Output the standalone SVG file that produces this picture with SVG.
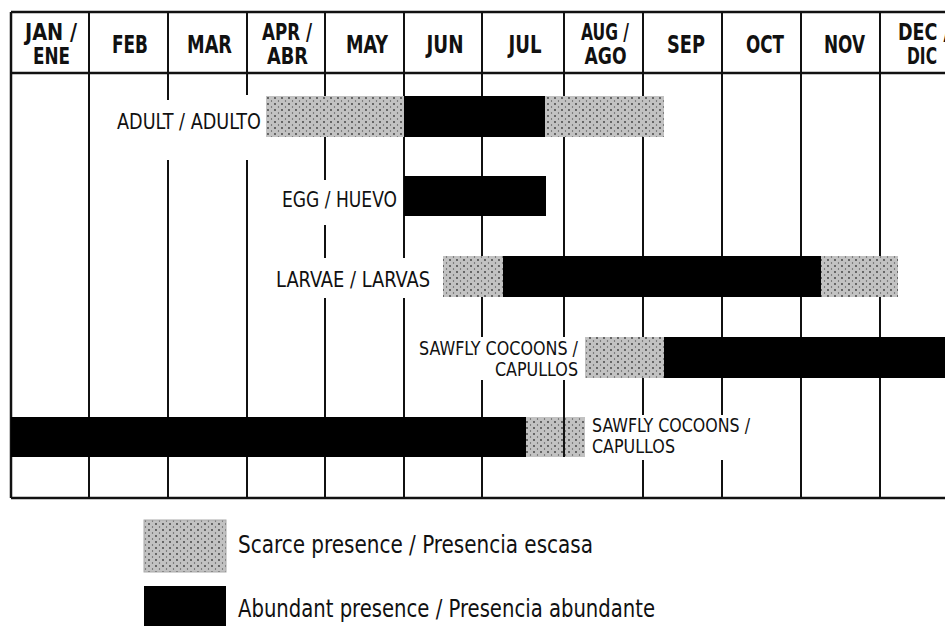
<svg xmlns="http://www.w3.org/2000/svg" width="945" height="626" viewBox="0 0 945 626">
<style>
.ln{stroke:#111;stroke-width:2;fill:none}
.frame{stroke:#111;stroke-width:2.5;fill:none}
.hd{font-family:"Liberation Sans Narrow","DejaVu Sans Condensed","Liberation Sans",sans-serif;font-weight:bold;font-size:25px;fill:#111;text-anchor:middle}
.hd2{font-family:"Liberation Sans Narrow","DejaVu Sans Condensed","Liberation Sans",sans-serif;font-weight:bold;font-size:23px;fill:#111;text-anchor:middle}
.lb{font-family:"Liberation Sans Narrow","DejaVu Sans Condensed","Liberation Sans",sans-serif;font-size:22px;fill:#111}
.lb2{font-family:"Liberation Sans Narrow","DejaVu Sans Condensed","Liberation Sans",sans-serif;font-size:19px;fill:#111}
.lg{font-family:"Liberation Sans Narrow","DejaVu Sans Condensed","Liberation Sans",sans-serif;font-size:25px;fill:#111}
.sc{fill:url(#dots)}
.ab{fill:#000}
</style>
<defs>
<pattern id="dots" width="7" height="6" patternUnits="userSpaceOnUse">
<rect width="7" height="6" fill="#c2c2c2"/>
<circle cx="2" cy="2" r="0.9" fill="#3a3a3a"/>
<circle cx="5.5" cy="5" r="0.7" fill="#555"/>
</pattern>
</defs>
<rect width="945" height="626" fill="#fff"/>

<g id="grid">
<path class="frame" d="M11,12 H945 M11,73 H945 M11,498 H945 M11,12 V498"/>
<path class="ln" d="M89,12 V498 M168,12 V100 M168,160 V498 M247,12 V95 M247,160 V498 M325,12 V180 M325,225 V258 M325,298 V498 M404,12 V258 M404,298 V498 M482,12 V337 M482,380 V498 M643,12 V415 M643,460 V498 M722,12 V415 M722,460 V498 M801,12 V498 M880,12 V498"/>
<path class="ln" d="M564,12 V337 M564,380 V417"/>
</g>

<g id="header">
<text class="hd2"><tspan x="51" y="40" textLength="52" lengthAdjust="spacingAndGlyphs">JAN /</tspan><tspan x="51.5" y="64" textLength="37" lengthAdjust="spacingAndGlyphs">ENE</tspan></text>
<text class="hd" x="130" y="53" textLength="36" lengthAdjust="spacingAndGlyphs">FEB</text>
<text class="hd" x="209.5" y="53" textLength="45" lengthAdjust="spacingAndGlyphs">MAR</text>
<text class="hd2"><tspan x="287" y="40" textLength="50" lengthAdjust="spacingAndGlyphs">APR /</tspan><tspan x="287.5" y="64" textLength="41" lengthAdjust="spacingAndGlyphs">ABR</tspan></text>
<text class="hd" x="367" y="53" textLength="42" lengthAdjust="spacingAndGlyphs">MAY</text>
<text class="hd" x="445" y="53" textLength="37" lengthAdjust="spacingAndGlyphs">JUN</text>
<text class="hd" x="525" y="53" textLength="33" lengthAdjust="spacingAndGlyphs">JUL</text>
<text class="hd2"><tspan x="605" y="40" textLength="48" lengthAdjust="spacingAndGlyphs">AUG /</tspan><tspan x="605.5" y="64" textLength="42" lengthAdjust="spacingAndGlyphs">AGO</tspan></text>
<text class="hd" x="686" y="53" textLength="38" lengthAdjust="spacingAndGlyphs">SEP</text>
<text class="hd" x="765" y="53" textLength="38" lengthAdjust="spacingAndGlyphs">OCT</text>
<text class="hd" x="844.5" y="53" textLength="41" lengthAdjust="spacingAndGlyphs">NOV</text>
<text class="hd2"><tspan x="924" y="40" textLength="52" lengthAdjust="spacingAndGlyphs">DEC /</tspan><tspan x="922" y="64" textLength="30" lengthAdjust="spacingAndGlyphs">DIC</tspan></text>
</g>

<g id="adult">
<rect class="sc" x="266" y="96" width="138" height="41"/>
<rect class="ab" x="404" y="96" width="141" height="41"/>
<rect class="sc" x="545" y="96" width="119" height="41"/>
<text class="lb" x="261" y="129" text-anchor="end" textLength="144" lengthAdjust="spacingAndGlyphs">ADULT / ADULTO</text>
</g>

<g id="egg">
<rect class="ab" x="404" y="176" width="142" height="40"/>
<text class="lb" x="397" y="207" text-anchor="end" textLength="115" lengthAdjust="spacingAndGlyphs">EGG / HUEVO</text>
</g>

<g id="larvae">
<rect class="sc" x="443" y="256" width="60" height="41"/>
<rect class="ab" x="503" y="256" width="318" height="41"/>
<rect class="sc" x="821" y="256" width="77" height="41"/>
<text class="lb" x="430" y="287" text-anchor="end" textLength="154" lengthAdjust="spacingAndGlyphs">LARVAE / LARVAS</text>
</g>

<g id="cocoons-autumn">
<rect class="sc" x="585" y="337" width="79" height="41"/>
<rect class="ab" x="664" y="337" width="290" height="41"/>
<text class="lb2" x="578" y="355" text-anchor="end" textLength="159" lengthAdjust="spacingAndGlyphs">SAWFLY COCOONS /</text>
<text class="lb2" x="578" y="376" text-anchor="end" textLength="83" lengthAdjust="spacingAndGlyphs">CAPULLOS</text>
</g>

<g id="cocoons-winter">
<rect class="ab" x="11" y="417" width="515" height="40"/>
<rect class="sc" x="526" y="417" width="59" height="40"/>
<path class="ln" d="M564,417 V457"/>
<text class="lb2" x="592" y="432" textLength="158" lengthAdjust="spacingAndGlyphs">SAWFLY COCOONS /</text>
<text class="lb2" x="592" y="453" textLength="83" lengthAdjust="spacingAndGlyphs">CAPULLOS</text>
</g>

<g id="legend-scarce">
<rect class="sc" x="144" y="520" width="82" height="52" stroke="#aaa" stroke-width="1"/>
<text class="lg" x="238" y="553" textLength="355" lengthAdjust="spacingAndGlyphs">Scarce presence / Presencia escasa</text>
</g>
<g id="legend-abundant">
<rect class="ab" x="144" y="586" width="82" height="45"/>
<text class="lg" x="238" y="617" textLength="417" lengthAdjust="spacingAndGlyphs">Abundant presence / Presencia abundante</text>
</g>
</svg>
